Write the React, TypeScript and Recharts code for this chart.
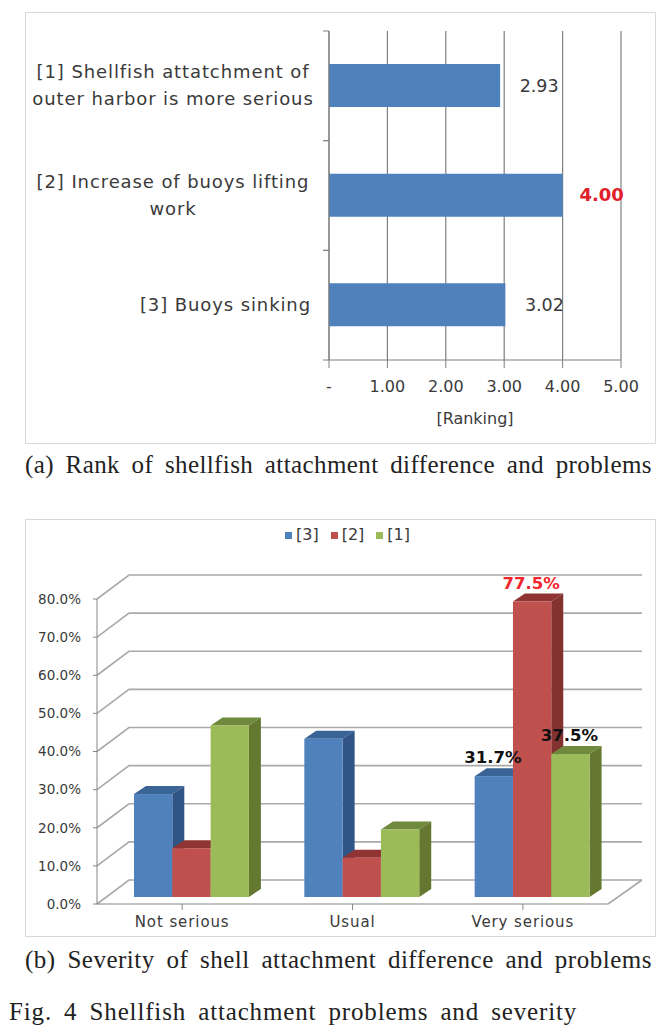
import { BarChart, Bar, XAxis, YAxis, CartesianGrid, LabelList, Legend } from "recharts";

// chart (a)
const rankCategories = ["[1] Shellfish attatchment of\nouter harbor is more serious", "[2] Increase of buoys lifting\nwork", "[3] Buoys sinking"];
const rankValues = [2.93, 4.0, 3.02];
const rankTicks = [0, 1, 2, 3, 4, 5];
const rankData = rankCategories.map((name, i) => ({ name, value: rankValues[i] }));

// chart (b)
const severityCategories = ["Not serious", "Usual", "Very serious"];
const series3 = [27, 41.5, 31.7];
const series2 = [12.8, 10.3, 77.5];
const series1 = [45, 17.7, 37.5];
const severityTicks = [0, 10, 20, 30, 40, 50, 60, 70, 80];
const severityData = severityCategories.map((name, i) => ({ name, s3: series3[i], s2: series2[i], s1: series1[i] }));

const FONT = "'DejaVu Sans', sans-serif";
const TEXT = "#3a3a3a";
const CAPTION = "'Liberation Serif', serif";

const WALL_X = 32;
const WALL_Y = 24;
const BAR_X = 9;
const BAR_Y = 7;
const SIDE_X = 12;
const SIDE_Y = 8;

function RankTick({ x, y, payload }: any) {
  const lines = String(payload.value).split("\n");
  const band = 109.7;
  return (
    <g>
      <line x1={x - 6} x2={x} y1={y - band / 2} y2={y - band / 2} stroke="#7f7f7f" />
      <line x1={x - 6} x2={x} y1={y + band / 2} y2={y + band / 2} stroke="#7f7f7f" />
      {lines.map((l, i) => (
        <text
          key={i}
          x={lines.length > 1 ? x - 156 : x - 18}
          y={y + (i - (lines.length - 1) / 2) * 27 + 6}
          textAnchor={lines.length > 1 ? "middle" : "end"}
          fontFamily={FONT}
          fontSize={18}
          letterSpacing={0.9}
          fill={TEXT}
        >
          {l}
        </text>
      ))}
    </g>
  );
}

function RankLabel({ x, y, width, height, value }: any) {
  const top = value === 4;
  return (
    <text
      x={x + width + 39}
      y={y + height / 2 + 6}
      textAnchor="middle"
      fontFamily={FONT}
      fontSize={top ? 18 : 17.5}
      fontWeight={top ? 700 : 400}
      fill={top ? "#e0202a" : TEXT}
    >
      {value.toFixed(2)}
    </text>
  );
}

function bar3d(top: string, side: string) {
  return function Bar3d({ x, y, width, height, fill }: any) {
    const l = x + BAR_X;
    const t = y - BAR_Y;
    const r = l + width;
    const b = t + height;
    return (
      <g>
        <polygon points={`${l},${t} ${l + SIDE_X},${t - SIDE_Y} ${r + SIDE_X},${t - SIDE_Y} ${r},${t}`} fill={top} />
        <polygon points={`${r},${t} ${r + SIDE_X},${t - SIDE_Y} ${r + SIDE_X},${b - SIDE_Y} ${r},${b}`} fill={side} />
        <rect x={l} y={t} width={width} height={height} fill={fill} />
      </g>
    );
  };
}

function wallLine({ x1, x2, y1, index }: any) {
  const bx = x1 + WALL_X;
  const by = y1 - WALL_Y;
  return (
    <g key={index}>
      <path d={`M${x1},${y1} L${bx},${by} L${x2 + WALL_X + 2},${by}`} fill="none" stroke="#a9a9a9" strokeWidth={1.6} />
      {y1 > 350 && <line x1={x2} y1={y1} x2={x2 + WALL_X + 2} y2={by} stroke="#a9a9a9" strokeWidth={1.6} />}
    </g>
  );
}

function severityLabel(color: string) {
  return function SeverityLabel({ x, y, width, value, index }: any) {
    if (index !== 2) return null;
    return (
      <text
        x={x + width / 2 + 8}
        y={y - BAR_Y - SIDE_Y - 5}
        textAnchor="middle"
        fontFamily={FONT}
        fontSize={16.5}
        fontWeight={700}
        fill={color}
      >
        {value.toFixed(1)}%
      </text>
    );
  };
}

const frame = (left: number, top: number, width: number, height: number) => ({
  position: "absolute" as const,
  left,
  top,
  width,
  height,
  boxSizing: "border-box" as const,
  border: "1px solid #d9d9d9",
  background: "#fff",
});

const captionStyle = (left: number, top: number, letterSpacing: number) => ({
  position: "absolute" as const,
  left,
  top,
  fontFamily: CAPTION,
  fontSize: 25,
  lineHeight: "28px",
  whiteSpace: "nowrap" as const,
  color: "#222",
  wordSpacing: 5,
  letterSpacing,
});

export default function App() {
  return (
    <div style={{ position: "absolute", left: 0, top: 0, width: 671, height: 1029, background: "#fff" }}>
      <div style={frame(25, 12, 631, 432)}>
        <BarChart
          width={629}
          height={430}
          layout="vertical"
          data={rankData}
          barCategoryGap={0}
          margin={{ top: 18, right: 34, left: 0, bottom: 0 }}
        >
          <CartesianGrid horizontal={false} stroke="#7f7f7f" strokeWidth={1.2} />
          <XAxis
            type="number"
            domain={[0, 5]}
            ticks={rankTicks}
            interval={0}
            tickSize={8}
            height={83}
            stroke="#7f7f7f"
            tick={{ fill: TEXT, fontSize: 16, fontFamily: FONT }}
            tickFormatter={(v: number) => (v === 0 ? "-" : v.toFixed(2))}
            tickMargin={13}
            label={{ value: "[Ranking]", position: "insideBottom", offset: 19, fill: TEXT, fontSize: 16, fontFamily: FONT }}
          />
          <YAxis
            type="category"
            dataKey="name"
            width={303}
            interval={0}
            tickLine={false}
            tickSize={0}
            tickMargin={0}
            stroke="#7f7f7f"
            tick={<RankTick />}
          />
          <Bar dataKey="value" fill="#4f81bd" barSize={43} isAnimationActive={false}>
            <LabelList dataKey="value" content={<RankLabel />} />
          </Bar>
        </BarChart>
      </div>
      <div style={captionStyle(25, 451, 0.4)}>(a) Rank of shellfish attachment difference and problems</div>

      <div style={frame(25, 519, 631, 418)}>
        <BarChart
          width={629}
          height={416}
          data={severityData}
          barGap={0}
          barCategoryGap={0}
          margin={{ top: 60, right: 47, left: 0, bottom: 0 }}
        >
          <CartesianGrid vertical={false} horizontal={wallLine as any} />
          <XAxis
            dataKey="name"
            height={32}
            interval={0}
            tickSize={6}
            tickMargin={6}
            stroke="#868686"
            tick={{ fill: TEXT, fontSize: 15, fontFamily: FONT, letterSpacing: 0.9 }}
          />
          <YAxis
            domain={[0, 80]}
            ticks={severityTicks}
            interval={0}
            width={71}
            tickSize={4}
            tickMargin={12}
            stroke="#868686"
            tick={{ fill: TEXT, fontSize: 13.5, fontFamily: FONT }}
            tickFormatter={(v: number) => `${v.toFixed(1)}%`}
          />
          <Legend
            verticalAlign="top"
            iconType="square"
            iconSize={7}
            itemSorter={null as any}
            wrapperStyle={{ top: 5, left: 13, width: 629, fontSize: 16, fontFamily: FONT }}
            formatter={(v: string) => <span style={{ color: TEXT, marginRight: 2 }}>{v}</span>}
          />
          <Bar dataKey="s3" name="[3]" fill="#4f81bd" barSize={38.3} shape={bar3d("#3a6396", "#2f5485")} isAnimationActive={false}>
            <LabelList dataKey="s3" content={severityLabel("#111")} />
          </Bar>
          <Bar dataKey="s2" name="[2]" fill="#c0504d" barSize={38.3} shape={bar3d("#8f3432", "#843230")} isAnimationActive={false}>
            <LabelList dataKey="s2" content={severityLabel("#f0262c")} />
          </Bar>
          <Bar dataKey="s1" name="[1]" fill="#9bbb59" barSize={38.3} shape={bar3d("#6f8a3c", "#64792f")} isAnimationActive={false}>
            <LabelList dataKey="s1" content={severityLabel("#111")} />
          </Bar>
        </BarChart>
      </div>
      <div style={captionStyle(25, 946, 0.5)}>(b) Severity of shell attachment difference and problems</div>
      <div style={captionStyle(9, 998, 0.85)}>Fig. 4 Shellfish attachment problems and severity</div>
    </div>
  );
}
